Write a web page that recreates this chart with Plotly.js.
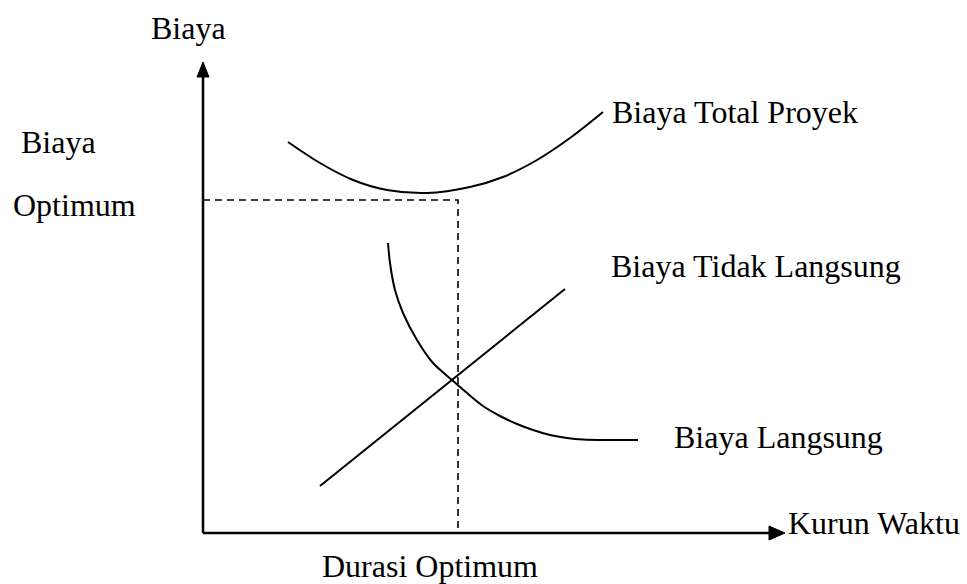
<!DOCTYPE html>
<html>
<head>
<meta charset="utf-8">
<script src="https://cdn.plot.ly/plotly-3.0.1.min.js"></script>
<style>html,body{margin:0;padding:0;background:#fff}#chart{width:967px;height:584px}</style>
</head>
<body>
<div id="chart"></div>
<script>
// Biaya Total Proyek curve (pixel-space units)
var totalX = [288, 320, 353, 387, 427, 470, 503, 537, 570, 603];
var totalY = [142, 163, 180, 190, 193, 187, 177, 160, 138, 112];
// Biaya Langsung curve
var directX = [388, 390, 395, 403, 417, 433, 452, 467, 483, 500, 517, 533, 550, 567, 583, 610, 638];
var directY = [243, 263, 290, 313, 340, 363, 380, 393, 406, 416, 424, 430, 435, 438, 439.5, 440, 440];
// Biaya Tidak Langsung line
var indirectX = [320, 565];
var indirectY = [486, 289];
// Optimum point (durasi, biaya)
var optX = 458, optY = 200;
// Axis frame
var originX = 203, originY = 533, yTop = 62, xRight = 785;

var labels = [
  {text: "Biaya", x: 149, y: 28, size: 32},
  {text: "Biaya", x: 19, y: 142, size: 32},
  {text: "Optimum", x: 11, y: 205, size: 32},
  {text: "Biaya Total Proyek", x: 610, y: 112, size: 32},
  {text: "Biaya Tidak Langsung", x: 609, y: 266, size: 32},
  {text: "Biaya Langsung", x: 672, y: 437, size: 32},
  {text: "Kurun Waktu", x: 786, y: 523, size: 32},
  {text: "Durasi Optimum", x: 320, y: 566, size: 32}
];

var lineStyle = {color: "#000", width: 2};
var traces = [
  {x: totalX, y: totalY, mode: "lines", line: Object.assign({shape: "spline"}, lineStyle), hoverinfo: "skip"},
  {x: directX, y: directY, mode: "lines", line: Object.assign({shape: "spline", smoothing: 0.8}, lineStyle), hoverinfo: "skip"},
  {x: indirectX, y: indirectY, mode: "lines", line: lineStyle, hoverinfo: "skip"},
  {x: [originX, optX, optX], y: [optY, optY, originY], mode: "lines",
   line: {color: "#000", width: 1.6, dash: "7px,5px"}, hoverinfo: "skip"}
];

var shapes = [
  {type: "line", x0: originX, y0: originY, x1: originX, y1: yTop + 12, line: {color: "#000", width: 2.5}},
  {type: "line", x0: originX, y0: originY, x1: xRight - 12, y1: originY, line: {color: "#000", width: 2.5}},
  {type: "path", path: "M" + originX + "," + yTop + " L" + (originX - 6) + "," + (yTop + 15) + " L" + (originX + 6) + "," + (yTop + 15) + " Z",
   fillcolor: "#000", line: {color: "#000", width: 1}},
  {type: "path", path: "M" + xRight + "," + originY + " L" + (xRight - 16) + "," + (originY - 7) + " L" + (xRight - 16) + "," + (originY + 7) + " Z",
   fillcolor: "#000", line: {color: "#000", width: 1}}
];

var annotations = labels.map(function (l) {
  return {text: l.text, x: l.x, y: l.y, xref: "x", yref: "y", xanchor: "left", yanchor: "middle",
          showarrow: false, font: {family: "Liberation Serif, Times New Roman, serif", size: l.size, color: "#000"}};
});

var layout = {
  width: 967, height: 584,
  margin: {l: 0, r: 0, t: 0, b: 0},
  paper_bgcolor: "#fff", plot_bgcolor: "#fff",
  showlegend: false,
  xaxis: {range: [0, 967], visible: false, fixedrange: true},
  yaxis: {range: [584, 0], visible: false, fixedrange: true},
  shapes: shapes,
  annotations: annotations
};

Plotly.newPlot("chart", traces, layout, {staticPlot: true});
</script>
</body>
</html>
